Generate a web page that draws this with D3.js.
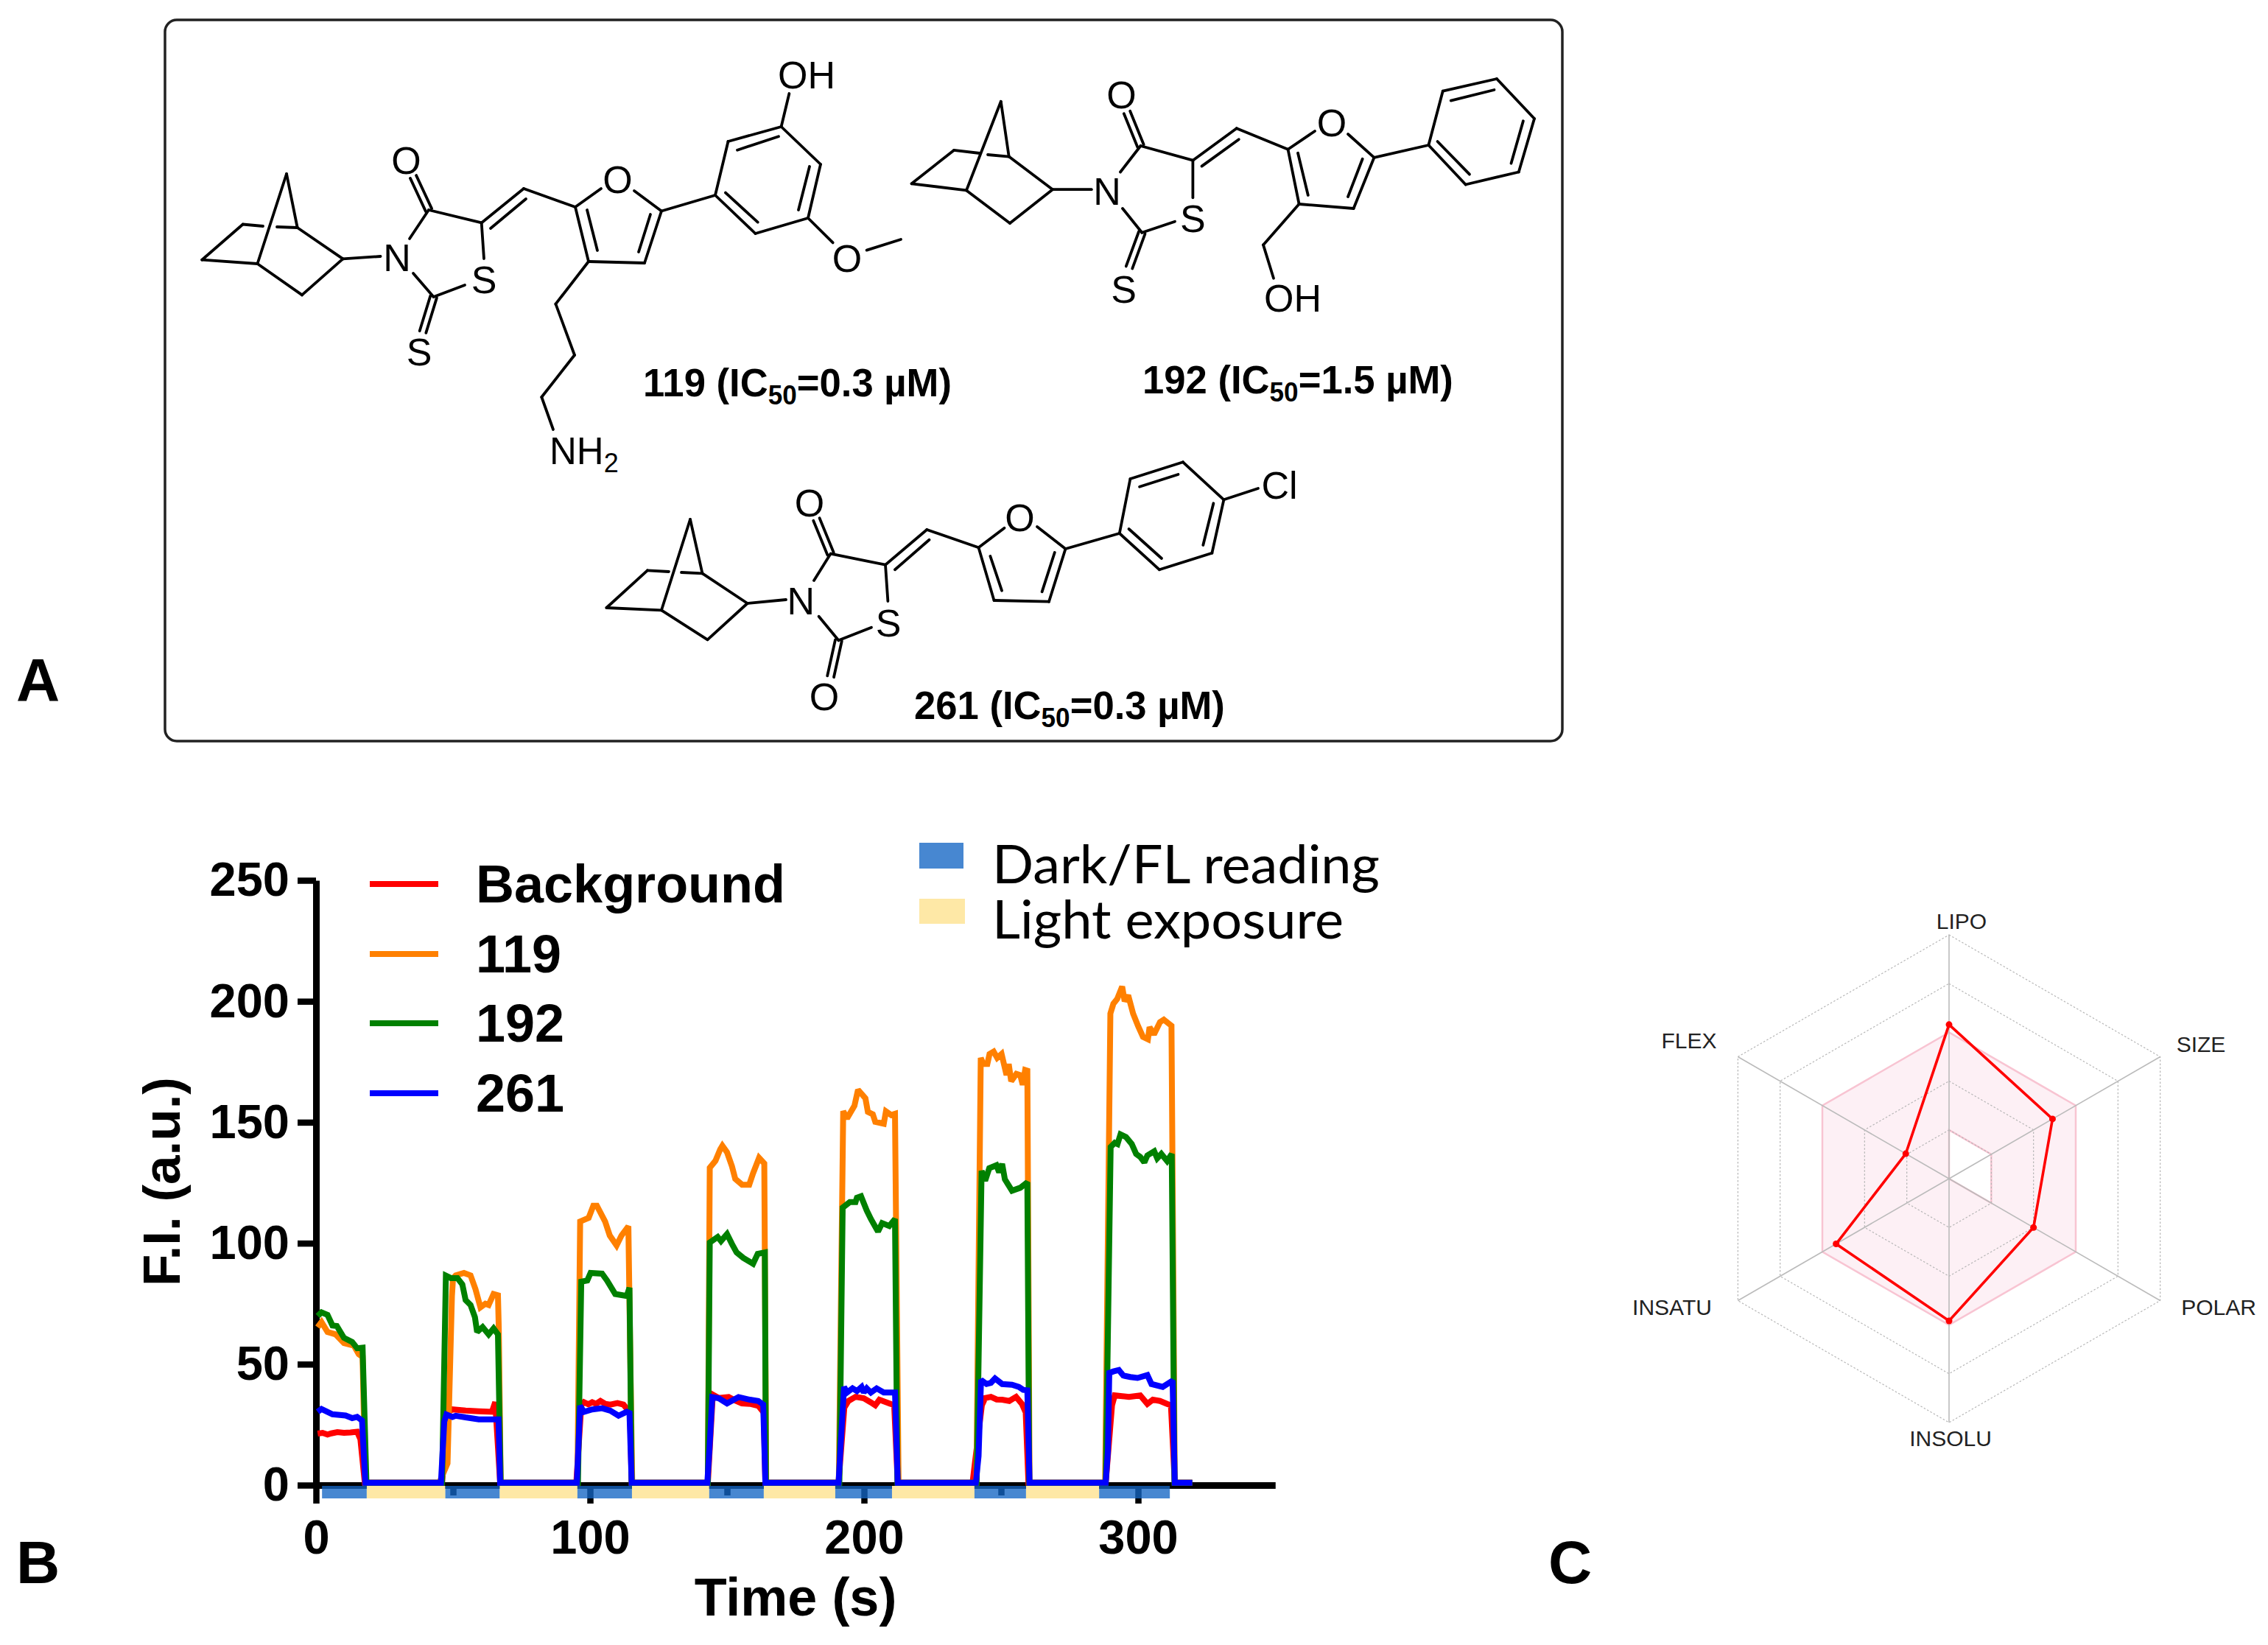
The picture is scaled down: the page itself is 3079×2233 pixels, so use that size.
<!DOCTYPE html>
<html><head><meta charset="utf-8">
<script src="https://cdn.jsdelivr.net/npm/d3@7/dist/d3.min.js"></script>
<style>html,body{margin:0;padding:0;background:#fff}svg{display:block}text{font-family:"Liberation Sans",Arial,sans-serif}</style>
</head><body><svg id="c" width="3079" height="2233"></svg>
<script>
// ---------- Panel B data: [time (s), F.I. (a.u.)]
const background = [[0.6,21.3],[2.4,21.6],[4.2,20.9],[5.6,21.4],[7.8,21.9],[10.2,21.6],[12.6,21.8],[15,22.1],[16.2,19],[17.8,1],
 [46,1],[48,30],[49.8,31.3],[54.6,30.8],[59.4,30.5],[64.2,30.3],[65.4,34.3],[67.2,1],
 [95,1],[96.8,33],[97.8,34.3],[99.4,33.4],[100.8,34.3],[102.2,33.6],[103.8,34.8],[105.6,33.6],[107.4,33.3],[110,33.9],[112.2,33.3],[114.6,30],[115.2,1],
 [143,1],[144.8,37.4],[147,36],[150.6,36.4],[153,35],[155.4,33.8],[158.4,33.6],[161.4,32.8],[163.4,30],[164,1],
 [190.7,1],[192.8,32],[194.3,34.8],[196.9,36.5],[199.9,35.9],[202.5,34.2],[204.1,33],[205.6,35.3],[209.7,33.6],[211,33],[212.3,1],
 [239.6,1],[243,33],[244.2,36],[246.3,36.5],[248.4,35.4],[250.4,35.3],[253,34.8],[255.5,36.5],[257.6,33.6],[259,30],[260,1],
 [288.2,1],[290.5,33],[291.5,37.1],[296.7,36.5],[300.8,37.1],[303.4,33.6],[305.4,35.3],[308,34.8],[310.6,33.6],[312,33],[313.4,1],[319.8,1]];
const s119 = [[0.6,65.3],[2,67.4],[4.2,63.3],[7.2,62.3],[10.2,58.7],[13.8,57.7],[15.6,54.1],[17,53],[18,1],
 [45,1],[48,9],[49.6,78],[50,85.5],[51,86.7],[54,87.7],[56.4,86.7],[58.2,81],[60,73.5],[61.8,75],[63,74.5],[64.8,79],[66.4,78.5],[66.7,65],[67.4,1],
 [95.4,1],[96.4,109],[99.5,110.5],[101.2,115.5],[102.5,115.5],[105.5,109],[107.2,103.2],[109.7,99.1],[111.5,103.2],[114,107],[114.6,60],[115.4,1],
 [143,1],[143.7,131.2],[145.8,134.1],[147.5,138.8],[148.3,140.3],[150,137.6],[151.8,131.8],[153,126.6],[155.5,124.2],[158.1,124.2],[159.5,128.9],[161.7,135.3],[163.6,133],[164.3,1],
 [190.8,1],[192.4,154.6],[193.8,151.6],[196.5,156.8],[197.8,163.4],[200.5,159.9],[201.4,154.3],[203.2,153.3],[204.1,150.2],[207.2,149.4],[208,154.5],[209.9,153],[211.3,153.5],[212.6,1],
 [241,1],[242.6,176.6],[243.5,174.1],[245,174.1],[245.8,178.2],[247.3,179.2],[248.6,176.6],[250.2,178.2],[252,169.5],[252.8,174.1],[253.7,167],[255.6,170],[257,169.5],[257.9,165.5],[258.8,171.6],[259.6,171.3],[260.4,1],
 [288,1],[289.9,194.9],[291,199],[292.4,201],[294.2,206.1],[295.1,200],[296.4,202.5],[298.2,194.9],[300,189.8],[301.8,185.3],[303.6,184.3],[304.2,189.3],[305.8,186.3],[308,191.4],[309.4,192.4],[312.2,189.9],[313.4,1],[319.8,1]];
const s192 = [[0.6,69.9],[2,71.4],[4.2,70.4],[6,66],[7.6,65.8],[10.2,60.9],[13.2,59.2],[15,56.6],[17,56.8],[18.4,1],
 [46,1],[47.4,86.6],[49.2,85.6],[51.6,85.6],[53.4,83],[54.6,76.5],[56.4,74.5],[58,69.4],[58.8,63.3],[60.8,65.3],[63,62.3],[64.8,64.8],[66.4,62.3],[67.4,1],
 [95.6,1],[96.8,84.1],[99,84.6],[100.2,87.7],[104.4,87.4],[106.2,84.6],[109.2,79],[113.4,78.2],[114.4,81.6],[115.2,1],
 [143,1],[143.7,100.3],[146.6,102.6],[147.8,100.9],[150,103.8],[151.8,99.7],[153.5,96.2],[156,93.9],[159.5,91.5],[161.2,95.6],[163.8,96.2],[164.2,1],
 [191,1],[192.2,114.7],[194.8,117],[196.9,117],[197.4,118.8],[198.9,119.4],[201,113.5],[202.5,110],[205.1,104.8],[206.6,108.3],[209.2,107.1],[211.3,110],[212.2,1],
 [241.1,1],[242.9,129.9],[244.2,125.8],[245.7,131],[248.3,132.2],[249.3,129.3],[250.4,132.8],[251.4,126.4],[254,121.7],[257,122.9],[259.6,125.2],[260.3,1],
 [288.2,1],[290,139.8],[291.5,141.5],[292.5,141],[293.6,145],[295.6,143.9],[297.7,141],[299.3,136.9],[300.8,135.7],[302.3,133.4],[303.4,136.3],[305.9,138],[307,135.1],[308.5,136.9],[310.6,134],[312.3,136.9],[313.3,1],[319.8,1]];
const s261 = [[0.6,30.3],[2,31.5],[6,29.3],[10.8,28.8],[13.2,27.7],[15,28.2],[16.8,26.7],[18,1],
 [45.6,1],[46.8,26.2],[47.6,29.2],[49.8,28.2],[51,28.7],[54.6,28],[59.4,27.2],[65.4,27.2],[66.6,27.2],[67.2,1],
 [95.2,1],[96.4,32.8],[97.8,30.3],[100.8,31.3],[104.4,31.8],[107.4,30.8],[110.4,28.7],[113.4,30.3],[114.4,29.8],[115.2,1],
 [142.8,1],[143.6,15],[144.6,36.4],[147,35.9],[150,33.8],[154.2,36.4],[158.4,35.3],[161.4,34.8],[163.2,33.3],[164,1],
 [190.7,1],[192.7,40.6],[193.8,38.3],[195.8,40],[197.4,38.9],[199.1,40.6],[199.9,38.3],[201,40],[202.5,38.3],[204.6,40],[207.2,38.3],[211.3,38.3],[212.3,1],
 [240.8,1],[241.8,12],[242.7,43.5],[244.7,41.8],[246.3,42.3],[247.8,44.1],[250.4,41.8],[254,41.5],[256.5,40.6],[258.1,39.4],[259.6,39.2],[260.4,1],
 [288.2,1],[289,14],[289.5,46.4],[291,47],[293,47.6],[294.6,45.3],[297.2,44.7],[299.8,44.3],[303.4,45.5],[304.9,41.8],[309,40.6],[312.6,43.2],[313.4,1],[319.8,1]];
const seriesNames = ["Background","119","192","261"];
const seriesColors = ["#ff0000","#ff8000","#008000","#0000ff"];
const xMajor = [0,100,200,300], xMinor = [50,150,250], yTicks = [0,50,100,150,200,250];
const darkBands = [[2.2,18.5],[47.2,67],[95.4,115.3],[143.5,163.4],[189.5,210.2],[240.3,259.1],[285.8,311.6]];
const lightBands = [[18.5,47.2],[67,95.4],[115.3,143.5],[163.4,189.5],[210.2,240.3],[259.1,285.8]];
const bandNames = ["Dark/FL reading","Light exposure"];

// ---------- Panel C data
const radarAxes = ["LIPO","SIZE","POLAR","INSOLU","INSATU","FLEX"];
const radarValues = [0.632,0.49,0.4,0.583,0.535,0.205];
const radarRings = [0.2,0.4,0.8,1];
const optimalOuter = [0.6,0.6,0.6,0.6,0.6,0.6];
const optimalInner = [0.2,0.2,0.2,0,0,0];

// ---------- Panel A structures: bond segments [x1,y1,x2,y2], labels [text,x,baseline]
const bondsSingle = [
 // 119
 [389,236,403.7,309],[389,236,349.5,358],[403.7,309,465.5,351.4],[465.5,351.4,410,400.4],[410,400.4,349.5,358],[349.5,358,274.2,352.7],[274.2,352.7,329.7,304.5],[329.7,304.5,357,307],[376,308,403.7,309],
 [465.5,351.4,516.6,348],[556,324,582,285],[561,371,588.6,403],[588.6,403,631,387],[653.7,302.4,657,351],[582,285,653.7,302.4],
 [711,256,781,281],[781,281,816,256],[898,286.5,861,259],[799,355,875,357],[898,286.5,971,265],
 [971,265,988.5,192],[1060.6,172,1114,223],[1097,296,1025.5,317],[1060.6,172,1071.4,127],[1097,296,1130.7,329.4],[1176.6,339.6,1223,325],
 [799,355,754.4,412.6],[754.4,412.6,780,482],[780,482,735.3,539],[735.3,539,751,583],
 [781,281,799,355],[875,357,898,286.5],[971,265,1025.5,317],[988.5,192,1060.6,172],[1114,223,1097,296],[653.7,302.4,711,256],
 [797,285,811,340],[867,342,883,291],[985,261.6,1028.7,301.6],[1001,203.7,1057,185.3],[1099,226,1084,285],[666,310,714,270],
 // 192
 [1358.8,137.8,1369.7,212.6],[1358.8,137.8,1312,258.4],[1369.7,212.6,1429,257.2],[1429,257.2,1371,303],[1371,303,1312,258.4],[1312,258.4,1237.6,249.3],[1237.6,249.3,1295,203.9],[1295,203.9,1330,208],[1341,210,1369.7,212.6],
 [1429,257.2,1481.8,257.2],[1521,233.5,1548.5,198],[1524,283,1550.3,315.8],[1550.3,315.8,1595,300.7],[1619.4,217.7,1619.4,268.3],[1548.5,198,1619.4,217.7],
 [1678.8,174.2,1748.5,202.7],[1748.5,202.7,1785,178],[1865.5,213.8,1830,182],[1763.6,277,1837.6,283],[1865.5,213.8,1939.4,197],
 [1939.4,197,1958.8,123.6],[2032,107,2083,161],[2061.8,233.5,1989.7,250.5],[1763.6,277,1715,332.4],[1715,332.4,1729,377.8],
 [1748.5,202.7,1763.6,277],[1837.6,283,1865.5,213.8],[1939.4,197,1989.7,250.5],[1958.8,123.6,2032,107],[2083,161,2061.8,233.5],[1619.4,217.7,1678.8,174.2],
 [1762,207.8,1775.8,265],[1830,267,1849.7,215.7],[1951.5,192,1995,236.7],[1969.7,136.6,2028.5,122],[2067.9,164.3,2051.5,221.7],[1631.5,225.6,1681.8,189.2],
 // 261
 [937,705,953.5,778.3],[937,705,898,828.3],[953.5,778.3,1014.7,819],[1014.7,819,960.5,868.3],[960.5,868.3,898,828.3],[898,828.3,823.4,825],[823.4,825,878.9,774.3],[878.9,774.3,908,776],[925,777,953.5,778.3],
 [1014.7,819,1067,814],[1105,788,1127.6,751.7],[1111.6,836.7,1138.4,869.3],[1138.4,869.3,1183,851.7],[1202,766.7,1205.4,816],[1127.6,751.7,1202,766.7],
 [1258.3,719,1328.5,743.3],[1328.5,743.3,1363.5,716.7],[1446.5,745,1408,715],[1349.5,815,1424,816.7],[1446.5,745,1519.8,724],
 [1519.8,724,1534.4,650],[1606,627.3,1661.4,678.3],[1645.4,750.7,1574,773.3],[1661.4,678.3,1708,663],
 [1328.5,743.3,1349.5,815],[1424,816.7,1446.5,745],[1519.8,724,1574,773.3],[1534.4,650,1606,627.3],[1661.4,678.3,1645.4,750.7],[1202,766.7,1258.3,719],
 [1344.4,755,1360,801.7],[1414.6,803.3,1431.8,750],[1532.5,718,1577,758],[1547,660.7,1599.5,644],[1647.4,683.3,1633.3,740],[1215,773.3,1261.5,732.7]
];
const bondsDouble = [ // drawn as two parallel strokes
 [582,285,561,240],[588.6,403,574,450.6],
 [1548.5,198,1530,152.5],[1550.3,315.8,1533,363],
 [1127.6,751.7,1108.4,705],[1138.4,869.3,1127.6,918.3]
];
const atomLabels = [
 ["O",551.6,236],["N",539,368],["S",657,398],["S",569,496],["O",838.6,262],["O",1150,369],["OH",1095,120],
 ["O",1522.4,147],["N",1503,278],["S",1619.4,315],["S",1525.5,411],["O",1808,185],["OH",1755,423],
 ["O",1099,701],["N",1087.4,834],["S",1206,864],["O",1119,964],["O",1384.6,721],["Cl",1737,677]
];
const compoundLabels = [["119",873,538,"0.3"],["192",1551,534,"1.5"],["261",1241,976,"0.3"]];
const panelLetters = [["A",22,951],["B",22,2149],["C",2102,2149]];

// ---------- Drawing
const svg = d3.select("#c");
const F = '"Liberation Sans",Arial,sans-serif';

// Panel A
svg.append("rect").attr("x",224).attr("y",27).attr("width",1897).attr("height",979).attr("rx",16)
  .attr("fill","none").attr("stroke","#222").attr("stroke-width",3.5);
const gA = svg.append("g").attr("stroke","#000").attr("stroke-width",3.8).attr("stroke-linecap","round");
gA.selectAll("line.s").data(bondsSingle).join("line").attr("class","s")
  .attr("x1",d=>d[0]).attr("y1",d=>d[1]).attr("x2",d=>d[2]).attr("y2",d=>d[3]);
bondsDouble.forEach(d=>{
  const dx=d[2]-d[0],dy=d[3]-d[1],l=Math.hypot(dx,dy),nx=-dy/l*4.5,ny=dx/l*4.5;
  [1,-1].forEach(s=>gA.append("line").attr("x1",d[0]+s*nx).attr("y1",d[1]+s*ny).attr("x2",d[2]+s*nx).attr("y2",d[3]+s*ny));
});
svg.selectAll("text.atom").data(atomLabels).join("text").attr("class","atom")
  .attr("x",d=>d[1]).attr("y",d=>d[2]).attr("text-anchor","middle").attr("font-size",52).text(d=>d[0]);
const nh2 = svg.append("text").attr("x",746).attr("y",630).attr("font-size",51);
nh2.append("tspan").text("NH");
nh2.append("tspan").attr("dy",11).attr("font-size",36).text("2");
compoundLabels.forEach(d=>{
  const t=svg.append("text").attr("transform",`translate(${d[1]},${d[2]}) scale(0.975,1)`).attr("font-size",54).attr("font-weight",700);
  t.append("tspan").text(d[0]+" (IC");
  t.append("tspan").attr("dy",11).attr("font-size",36).text("50");
  t.append("tspan").attr("dy",-11).text("="+d[3]+" µM)");
});
svg.selectAll("text.panel").data(panelLetters).join("text").attr("class","panel")
  .attr("x",d=>d[1]).attr("y",d=>d[2]).attr("font-size",82).attr("font-weight",700).text(d=>d[0]);

// Panel B
const x = d3.scaleLinear().domain([0,350]).range([429,1731]);
const y = d3.scaleLinear().domain([0,250]).range([2016,1195]);
const gB = svg.append("g");
function styleAxis(g){ g.selectAll("path.domain").attr("stroke","#000").attr("stroke-width",9);
  g.selectAll(".tick line").attr("stroke","#000").attr("stroke-width",8.5);
  g.selectAll(".tick text").attr("font-family",F).attr("font-weight",700).attr("font-size",65).attr("fill","#000"); }
const axB = gB.append("g").attr("transform","translate(0,2016)")
  .call(d3.axisBottom(x).tickValues(xMajor).tickSize(25).tickSizeOuter(0).tickPadding(22).tickFormat(d3.format("d"))).call(styleAxis);
axB.selectAll(".tick text").attr("dy","0.71em");
gB.append("g").attr("transform","translate(0,2016)")
  .call(d3.axisBottom(x).tickValues(xMinor).tickSize(14).tickSizeOuter(0).tickFormat("")).call(styleAxis);
gB.append("g").attr("transform","translate(429,0)")
  .call(d3.axisLeft(y).tickValues(yTicks).tickSize(25).tickSizeOuter(0).tickPadding(11).tickFormat(d3.format("d"))).call(styleAxis);
gB.selectAll("rect.light").data(lightBands).join("rect").attr("class","light")
  .attr("x",d=>x(d[0])).attr("width",d=>x(d[1])-x(d[0])).attr("y",2017).attr("height",17).attr("fill","#fee8a6");
gB.selectAll("rect.dark").data(darkBands).join("rect").attr("class","dark")
  .attr("x",d=>x(d[0])).attr("width",d=>x(d[1])-x(d[0])).attr("y",2017).attr("height",17).attr("fill","rgb(19,101,196)").attr("fill-opacity",0.78);
const lineGen = d3.line().x(d=>x(d[0])).y(d=>y(d[1]));
[background,s119,s192,s261].forEach((s,i)=>{
  gB.append("path").attr("d",lineGen(s)).attr("fill","none").attr("stroke",seriesColors[i]).attr("stroke-width",8).attr("stroke-linejoin","miter").attr("stroke-miterlimit",2);
});
const legY = [1200,1295,1389,1484];
seriesNames.forEach((n,i)=>{
  gB.append("line").attr("x1",502).attr("x2",595).attr("y1",legY[i]).attr("y2",legY[i]).attr("stroke",seriesColors[i]).attr("stroke-width",8);
  gB.append("text").attr("x",646).attr("y",legY[i]+25).attr("font-size",72).attr("font-weight",700).text(n);
});
gB.append("text").attr("x",1080).attr("y",2193).attr("text-anchor","middle").attr("font-size",72).attr("font-weight",700).text("Time (s)");
gB.append("text").attr("transform","translate(244,1604) rotate(-90)").attr("text-anchor","middle").attr("font-size",71).attr("font-weight",700).text("F.I. (a.u.)");
[[1248,1144,60,35,"#4787d1",1347,1199,526],[1248,1220,62,34,"#fee8a6",1347,1274,477]].forEach((d,i)=>{
  gB.append("rect").attr("x",d[0]).attr("y",d[1]).attr("width",d[2]).attr("height",d[3]).attr("fill",d[4]);
  gB.append("text").attr("x",d[5]).attr("y",d[6]).attr("font-size",72).style("font-family","Lato").attr("textLength",d[7]).attr("lengthAdjust","spacingAndGlyphs").text(bandNames[i]);
});

// Panel C
const cx=2646, cy=1600;
const r = d3.scaleLinear().domain([0,1]).range([0,331]);
const ang = d3.scalePoint().domain(radarAxes).range([0,Math.PI*5/3]);
const radial = d3.lineRadial().angle((d,i)=>ang(radarAxes[i])).radius(d=>r(d)).curve(d3.curveLinearClosed);
const gC = svg.append("g").attr("transform",`translate(${cx},${cy})`);
const pinkD = radial(optimalOuter)+radial(optimalInner);
gC.append("path").attr("d",pinkD).attr("fill","#fdf0f5").attr("fill-rule","evenodd").attr("stroke","#f8c4d2").attr("stroke-width",2.5);
radarRings.forEach(v=>{
  gC.append("path").attr("d",radial(radarAxes.map(()=>v))).attr("fill","none").attr("stroke","#b5b5b5").attr("stroke-width",1.2).attr("stroke-dasharray","2.5 2.5");
});
radarAxes.forEach(a=>{
  const p=d3.pointRadial(ang(a),r(1));
  gC.append("line").attr("x1",0).attr("y1",0).attr("x2",p[0]).attr("y2",p[1]).attr("stroke","#bbb").attr("stroke-width",1.6);
});
gC.append("path").attr("d",radial(radarValues)).attr("fill","none").attr("stroke","#ff0000").attr("stroke-width",3.6);
gC.selectAll("circle").data(radarValues).join("circle")
  .attr("cx",(d,i)=>d3.pointRadial(ang(radarAxes[i]),r(d))[0])
  .attr("cy",(d,i)=>d3.pointRadial(ang(radarAxes[i]),r(d))[1])
  .attr("r",4.5).attr("fill","#ff0000");
const radarLabelPos = [[2663,1261],[2988,1428],[3012,1785],[2648,1963],[2270,1785],[2293,1423]];
radarAxes.forEach((a,i)=>{
  svg.append("text").attr("x",radarLabelPos[i][0]).attr("y",radarLabelPos[i][1]).attr("text-anchor","middle")
    .attr("font-size",30).attr("fill","#222").text(a);
});
</script></body></html>
